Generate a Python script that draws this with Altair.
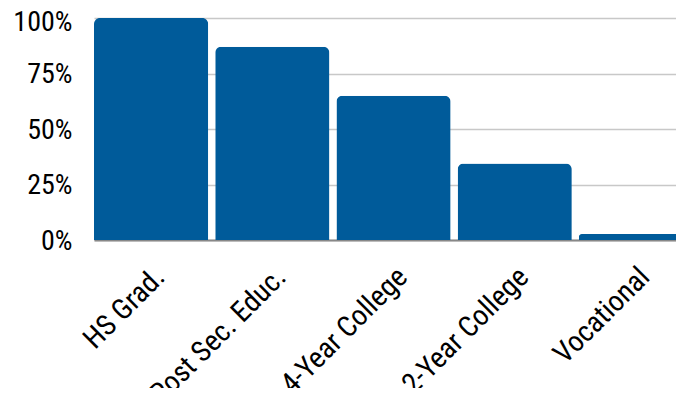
import altair as alt
import pandas as pd

categories = ["HS Grad.", "Post Sec. Educ.", "4-Year College", "2-Year College", "Vocational"]
values = [1.00, 0.87, 0.65, 0.345, 0.027]

df = pd.DataFrame({"category": categories, "value": values})

FONT = "Roboto Condensed, DejaVu Sans Condensed, sans-serif"

chart = alt.Chart(df).mark_bar(
    color="#005B9A", cornerRadiusTopLeft=6, cornerRadiusTopRight=6
).encode(
    x=alt.X("category:N", sort=categories,
            scale=alt.Scale(paddingInner=0.058, paddingOuter=0.0, range=[0, 599]),
            axis=alt.Axis(title=None, labelAngle=-45, labelAlign="right", labelBaseline="middle",
                          labelFontSize=29, labelFont=FONT, labelColor="#000000",
                          ticks=False, domainColor="#888888", domainWidth=2,
                          labelPadding=32, labelOffset=9)),
    y=alt.Y("value:Q", scale=alt.Scale(domain=[0, 1]),
            axis=alt.Axis(title=None, format=".0%", values=[0, 0.25, 0.5, 0.75, 1.0],
                          labelFontSize=28, labelFont=FONT, labelColor="#000000",
                          labelOffset={"condition": {"test": "datum.value == 1", "value": 4}, "value": 1},
                          ticks=False, domain=False, labelPadding=22,
                          gridColor="#c8c8c8", gridWidth=1.5)),
).properties(
    width=582, height=222,
    autosize=alt.AutoSizeParams(type="none"),
    padding={"left": 86, "top": 10, "right": 0, "bottom": 148},
).configure_view(stroke=None)

chart.save("out.html", embed_options={"renderer": "svg", "actions": False})
